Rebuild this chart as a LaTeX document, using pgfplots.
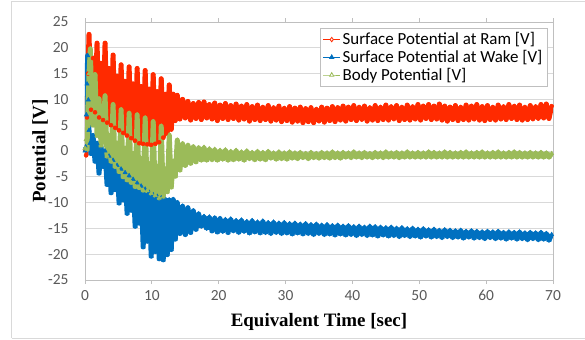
\documentclass[border=0pt]{standalone}
\usepackage{pgfplots}
\pgfplotsset{compat=1.18}
\usepackage{fontspec}
\setmainfont{Carlito}
\newfontfamily\timesfont{Liberation Serif}
\definecolor{ramred}{HTML}{FF2A00}
\definecolor{wakeblue}{HTML}{0070C0}
\definecolor{bodygreen}{HTML}{9BBB59}
\definecolor{gridgray}{HTML}{D9D9D9}
\definecolor{axisgray}{HTML}{BFBFBF}
\definecolor{ticktext}{HTML}{595959}
\begin{document}
\begin{tikzpicture}
\draw[gridgray, line width=1bp] (-73bp,-58bp) -- (-73bp,278bp) -- (520bp,278bp);
\draw[gridgray, line width=1bp] (-73bp,-58bp) -- (520bp,-58bp);
\begin{axis}[
  scale only axis, width=468bp, height=258bp,
  xmin=0, xmax=70, ymin=-25, ymax=25,
  xtick={0,10,...,70}, ytick={-25,-20,...,25},
  ymajorgrids, grid style={gridgray, line width=0.8bp},
  axis line style={axisgray, line width=0.8bp},
  tick align=outside, major tick length=4bp,
  xtick style={axisgray, line width=0.8bp},
  ytick style={draw=none},
  ticklabel style={font=\fontsize{15.5}{18}\selectfont, text=ticktext},
  /pgf/number format/assume math mode=true,
  yticklabel style={xshift=-9bp},
  xticklabel style={yshift=-3bp},
  xlabel={Equivalent Time [sec]}, ylabel={Potential [V]},
  label style={font=\timesfont\bfseries\fontsize{19}{22}\selectfont, text=black},
  xlabel style={at={(axis description cs:0.5,-0.1628)}, anchor=center},
  ylabel style={at={(axis description cs:-0.0962,0.5)}, anchor=center},
  legend style={at={(1,1)}, xshift=-6bp, yshift=-6bp, anchor=north east,
    draw=axisgray, font=\fontsize{17}{19}\selectfont, row sep=0pt, inner sep=2.5bp},
  legend cell align=left,
]
\addplot[forget plot, draw=ramred, line width=5bp, line join=round, mark=*, mark size=2pt, mark options={fill=ramred, draw=ramred, line width=0.5pt}] coordinates {
(0,0.3)(0.15,-0.8)(0.3,6.5)(0.45,15)(0.6,22.6)(0.9,8)(1.2,18)(1.5,7.5)(1.8,20.9)(2.1,6.5)(2.4,17)(2.7,6)(3.0,20.9)(3.3,5.5)(3.6,16)(3.9,5)(4.2,18.6)(4.5,4.5)(4.8,14.5)(5.1,4)(5.4,16.7)(5.7,3.5)(6.0,13.5)(6.3,3)(6.6,16.3)(6.9,2.5)(7.2,13)(7.5,2)(7.8,16.0)(8.1,1.5)(8.4,12.5)(8.7,1.4)(9.0,15.6)(9.3,1.3)(9.6,12)(9.9,1.2)(10.2,14.8)(10.5,1.4)(10.8,11.5)(11.1,1.7)(11.4,14.0)(11.7,2.6)(12.0,11)(12.3,3.4)(12.6,12.8)(12.9,4.2)(13.2,11)(13.5,5.9)
(13.8,10.8)(14.2,6.2)(14.6,10.0)(15.0,6.4)(15.4,9.6)(15.8,6.0)(16.2,9.2)(16.6,6.3)(17.0,9.4)(17.4,6.1)(17.8,9.5)(18.2,6.4)(18.6,9.0)(19.0,6.2)(19.4,9.3)(19.8,5.9)(20.2,8.9)(20.6,6.3)(21.0,9.2)(21.4,6.1)(21.8,8.8)(22.2,6.3)(22.6,9.1)(23.0,6.0)(23.4,8.7)(23.8,6.2)(24.2,9.0)(24.6,5.8)(25.0,8.6)(25.4,6.1)(25.8,8.9)(26.2,5.9)(26.6,8.5)(27.0,6.1)(27.4,8.8)(27.8,5.8)(28.2,8.4)(28.6,6.0)(29.0,8.7)(29.4,5.7)(29.8,8.3)(30.2,5.9)(30.6,8.6)(31.0,5.6)(31.4,8.3)(31.8,5.8)(32.2,8.5)(32.6,5.5)(33.0,8.2)(33.4,5.7)(33.8,8.4)(34.2,5.5)(34.6,8.1)(35.0,5.8)(35.4,8.5)(35.8,5.6)(36.2,8.3)(36.6,5.9)(37.0,8.6)(37.4,5.7)(37.8,8.4)(38.2,6.0)(38.6,8.7)(39.0,5.8)(39.4,8.5)(39.8,6.1)(40.2,8.8)(40.6,5.9)(41.0,8.5)(41.4,6.1)(41.8,8.7)(42.2,5.8)(42.6,8.4)(43.0,6.0)(43.4,8.8)(43.8,5.9)(44.2,8.5)(44.6,6.1)(45.0,8.9)(45.4,6.0)(45.8,8.6)(46.2,6.2)(46.6,8.8)(47.0,5.9)(47.4,8.5)(47.8,6.1)(48.2,8.9)(48.6,6.0)(49.0,8.6)(49.4,6.2)(49.8,9.0)(50.2,6.0)(50.6,8.7)(51.0,6.3)(51.4,9.0)(51.8,6.1)(52.2,8.7)(52.6,6.2)(53.0,9.1)(53.4,6.0)(53.8,8.7)(54.2,5.8)(54.6,8.5)(55.0,6.1)(55.4,8.8)(55.8,5.9)(56.2,8.5)(56.6,6.1)(57.0,8.9)(57.4,6.0)(57.8,8.7)(58.2,6.2)(58.6,9.0)(59.0,6.0)(59.4,8.6)(59.8,5.9)(60.2,8.8)(60.6,6.1)(61.0,8.5)(61.4,6.0)(61.8,8.9)(62.2,6.2)(62.6,8.6)(63.0,6.1)(63.4,9.0)(63.8,6.3)(64.2,8.7)(64.6,6.1)(65.0,8.9)(65.4,6.0)(65.8,8.5)(66.2,6.1)(66.6,8.8)(67.0,6.2)(67.4,8.6)(67.8,6.3)(68.2,9.0)(68.6,6.4)(69.0,9.1)(69.4,6.3)(69.8,8.7)
};
\addplot[forget plot, draw=wakeblue, line width=5bp, line join=round, mark=triangle*, mark size=2.5pt, mark options={fill=wakeblue, draw=wakeblue, line width=0.5pt}] coordinates {
(0,0)(0.1,0.8)(0.2,7)(0.3,13)(0.4,18.5)(0.5,9.9)(0.6,4)(0.75,1.5)(0.9,-0.5)(1.2,3)(1.5,-2)(1.8,1.5)(2.1,-4.3)(2.4,0.8)(2.7,-3)(3.0,0)(3.3,-6.5)(3.6,-1)(3.9,-8.1)(4.2,-1.8)(4.5,-7.5)(4.8,-2.8)(5.1,-10.1)(5.4,-3.5)(5.7,-9.5)(6.0,-4.2)(6.3,-12.1)(6.6,-4.8)(6.9,-11.5)(7.2,-5.5)(7.5,-14.6)(7.8,-6.2)(8.1,-14)(8.4,-6.8)(8.7,-18.6)(9.0,-7.4)(9.3,-17.5)(9.6,-8)(9.9,-20.4)(10.2,-8.5)(10.5,-19.5)(10.8,-8.8)(11.1,-20.9)(11.4,-9.1)(11.7,-21.1)(12.0,-9.4)(12.3,-20.1)(12.6,-9.5)(12.9,-19.1)(13.2,-9.4)(13.5,-17.1)(13.8,-10.0)(14.2,-16.0)(14.6,-10.7)(15.0,-16.2)(15.4,-11.0)(15.8,-15.8)(16.2,-11.6)(16.6,-15.2)(17.0,-12.2)(17.4,-14.6)(17.8,-12.7)(18.2,-15.0)(18.6,-12.8)(19.0,-15.5)(19.4,-13.0)(19.8,-15.7)
(20.2,-13.1)(20.6,-15.6)(21.0,-13.3)(21.4,-15.8)(21.8,-13.2)(22.2,-15.5)(22.6,-13.5)(23.0,-15.8)(23.4,-13.4)(23.8,-15.6)(24.2,-13.7)(24.6,-15.9)(25.0,-13.5)(25.4,-15.7)(25.8,-13.8)(26.2,-15.9)(26.6,-13.6)(27.0,-15.8)(27.4,-13.9)(27.8,-16.0)(28.2,-13.8)(28.6,-15.8)(29.0,-14.0)(29.4,-16.0)(29.8,-13.9)(30.2,-15.9)(30.6,-14.1)(31.0,-16.1)(31.4,-14.0)(31.8,-15.9)(32.2,-14.2)(32.6,-16.1)(33.0,-14.1)(33.4,-16.0)(33.8,-14.3)(34.2,-16.2)(34.6,-14.2)(35.0,-16.0)(35.4,-14.4)(35.8,-16.2)(36.2,-14.3)(36.6,-16.1)(37.0,-14.5)(37.4,-16.3)(37.8,-14.4)(38.2,-16.1)(38.6,-14.6)(39.0,-16.3)(39.4,-14.5)(39.8,-16.2)(40.2,-14.7)(40.6,-16.4)(41.0,-14.6)(41.4,-16.2)(41.8,-14.8)(42.2,-16.4)(42.6,-14.6)(43.0,-16.3)(43.4,-14.7)(43.8,-16.5)(44.2,-14.8)(44.6,-16.3)(45.0,-14.9)(45.4,-16.5)(45.8,-14.8)(46.2,-16.4)(46.6,-15.0)(47.0,-16.6)(47.4,-14.9)(47.8,-16.4)(48.2,-15.1)(48.6,-16.6)(49.0,-15.0)(49.4,-16.5)(49.8,-15.2)(50.2,-16.7)(50.6,-15.1)(51.0,-16.5)(51.4,-15.3)(51.8,-16.7)(52.2,-15.2)(52.6,-16.6)(53.0,-15.4)(53.4,-16.8)(53.8,-15.3)(54.2,-16.6)(54.6,-15.4)(55.0,-16.8)(55.4,-15.5)(55.8,-16.7)(56.2,-15.4)(56.6,-16.9)(57.0,-15.6)(57.4,-16.7)(57.8,-15.5)(58.2,-16.9)(58.6,-15.6)(59.0,-16.8)(59.4,-15.7)(59.8,-17.0)(60.2,-15.6)(60.6,-16.8)(61.0,-15.7)(61.4,-17.0)(61.8,-15.6)(62.2,-16.9)(62.6,-15.8)(63.0,-17.1)(63.4,-15.7)(63.8,-16.9)(64.2,-15.8)(64.6,-17.1)(65.0,-15.7)(65.4,-17.0)(65.8,-15.9)(66.2,-17.2)(66.6,-15.8)(67.0,-17.0)(67.4,-15.9)(67.8,-17.2)(68.2,-15.8)(68.6,-17.1)(69.0,-16.0)(69.4,-17.3)(69.8,-16.2)
};
\addplot[forget plot, draw=bodygreen, line width=5bp, line join=round, mark=triangle*, mark size=2.5pt, mark options={fill=bodygreen, draw=bodygreen, line width=0.5pt}] coordinates {
(0,0.5)(0.15,2.2)(0.3,0.3)(0.45,9)(0.6,15)(0.8,19.8)(1.0,9)(1.2,5)(1.5,14.8)(1.8,3)(2.1,10.1)(2.4,1)(2.7,4)(3.0,10.7)(3.3,-1)(3.6,3)(3.9,-2)(4.2,9.0)(4.5,-3)(4.8,1.5)(5.1,-4)(5.4,8.0)(5.7,-5)(6.0,0.5)(6.3,-5.6)(6.6,7.3)(6.9,-6.1)(7.2,-0.5)(7.5,-6.9)(7.8,7.0)(8.1,-7.1)(8.4,-1.5)(8.7,-7.6)(9.0,6.4)(9.3,-7.7)(9.6,-2.5)(9.9,-8.2)(10.2,5.7)(10.5,-8.6)(10.8,-3)(11.1,-9.1)(11.4,4.8)(11.7,-8.9)(12.0,-3.5)(12.3,-7.9)(12.6,3.1)(12.9,-7.0)(13.2,-2)(13.5,-4.9)(13.8,2.1)(14.2,-3.7)(14.6,1.4)(15.0,-2.8)(15.4,1.1)(15.8,-2.4)(16.2,0.8)(16.6,-2.1)(17.0,0.6)(17.4,-1.8)
(17.8,0.7)(18.2,-1.8)(18.6,0.4)(19.0,-1.7)(19.4,0.3)(19.8,-1.8)(20.2,0.1)(20.6,-1.6)(21.0,0.2)(21.4,-1.8)(21.8,-0.1)(22.2,-1.7)(22.6,0.1)(23.0,-1.6)(23.4,-0.2)(23.8,-1.8)(24.2,0.0)(24.6,-1.5)(25.0,-0.3)(25.4,-1.7)(25.8,-0.1)(26.2,-1.6)(26.6,-0.3)(27.0,-1.7)(27.4,-0.1)(27.8,-1.4)(28.2,-0.4)(28.6,-1.6)(29.0,-0.2)(29.4,-1.5)(29.8,-0.4)(30.2,-1.6)(30.6,-0.2)(31.0,-1.4)(31.4,-0.4)(31.8,-1.5)(32.2,-0.3)(32.6,-1.3)(33.0,-0.5)(33.4,-1.5)(33.8,-0.3)(34.2,-1.3)(34.6,-0.5)(35.0,-1.4)(35.4,-0.3)(35.8,-1.3)(36.2,-0.4)(36.6,-1.4)(37.0,-0.2)(37.4,-1.3)(37.8,-0.4)(38.2,-1.4)(38.6,-0.3)(39.0,-1.2)(39.4,-0.4)(39.8,-1.3)(40.2,-0.2)(40.6,-1.2)(41.0,-0.4)(41.4,-1.3)(41.8,-0.3)(42.2,-1.2)(42.6,-0.5)(43.0,-1.3)(43.4,-0.3)(43.8,-1.2)(44.2,-0.4)(44.6,-1.3)(45.0,-0.2)(45.4,-1.2)(45.8,-0.4)(46.2,-1.2)(46.6,-0.3)(47.0,-1.3)(47.4,-0.4)(47.8,-1.2)(48.2,-0.2)(48.6,-1.2)(49.0,-0.4)(49.4,-1.2)(49.8,-0.3)(50.2,-1.2)(50.6,-0.4)(51.0,-1.2)(51.4,-0.2)(51.8,-1.2)(52.2,-0.3)(52.6,-1.2)(53.0,-0.4)(53.4,-1.2)(53.8,-0.2)(54.2,-1.2)(54.6,-0.3)(55.0,-1.2)(55.4,-0.4)(55.8,-1.2)(56.2,-0.3)(56.6,-1.2)(57.0,-0.2)(57.4,-1.2)(57.8,-0.4)(58.2,-1.2)(58.6,-0.3)(59.0,-1.2)(59.4,-0.2)(59.8,-1.2)(60.2,-0.4)(60.6,-1.2)(61.0,-0.3)(61.4,-1.2)(61.8,-0.2)(62.2,-1.2)(62.6,-0.4)(63.0,-1.2)(63.4,-0.3)(63.8,-1.2)(64.2,-0.2)(64.6,-1.2)(65.0,-0.3)(65.4,-1.2)(65.8,-0.4)(66.2,-1.2)(66.6,-0.3)(67.0,-1.2)(67.4,-0.4)(67.8,-1.2)(68.2,-0.3)(68.6,-1.2)(69.0,-0.4)(69.4,-1.2)(69.8,-0.5)
};
\addlegendimage{ramred, line width=0.8pt, mark=diamond*, mark size=2.2pt, mark options={fill=white}}
\addlegendentry{Surface Potential at Ram [V]}
\addlegendimage{wakeblue, line width=0.8pt, mark=triangle*, mark size=2.4pt}
\addlegendentry{Surface Potential at Wake [V]}
\addlegendimage{bodygreen, line width=0.8pt, mark=triangle*, mark size=2.4pt, mark options={fill=white}}
\addlegendentry{Body Potential [V]}
\end{axis}
\pgfresetboundingbox
\useasboundingbox (-85bp,-60bp) rectangle (500bp,280bp);
\end{tikzpicture}
\end{document}
